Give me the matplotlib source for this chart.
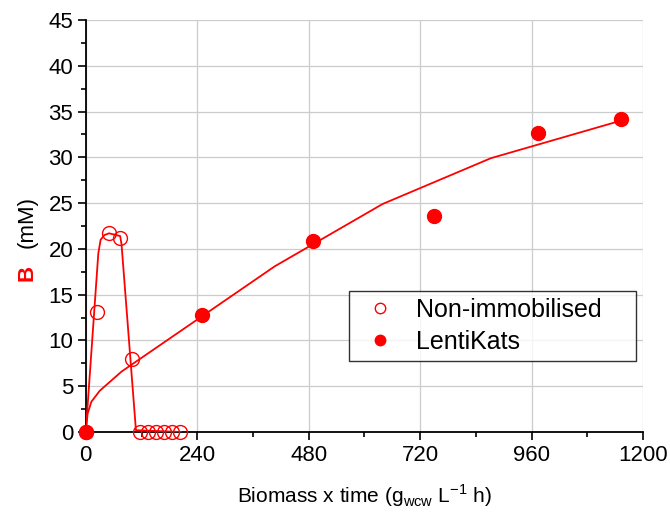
import matplotlib
matplotlib.use('Agg')
import matplotlib.pyplot as plt
from matplotlib.ticker import MultipleLocator

plt.rcParams['font.family'] = ['Liberation Sans', 'DejaVu Sans']

# Non-immobilised (open circles)
x_free = [0, 24, 49, 74, 100, 117, 134, 151, 168, 185, 202]
y_free = [0, 13.1, 21.7, 21.2, 8.0, 0, 0, 0, 0, 0, 0]
x_free_fit = [0, 27, 32, 40, 50, 74, 77, 108, 205]
y_free_fit = [0, 19.5, 21.0, 21.5, 21.7, 21.4, 20.5, 0.2, 0]

# LentiKats (filled circles)
x_lk = [0, 250, 489, 749, 973, 1152]
y_lk = [0, 12.8, 20.9, 23.6, 32.7, 34.2]
x_lk_fit = [0, 4, 12, 30, 77, 407, 639, 872, 1152]
y_lk_fit = [0, 2.0, 3.3, 4.5, 6.6, 18.1, 24.9, 29.9, 34.0]

fig = plt.figure(figsize=(6.7, 5.19), dpi=100)
ax = fig.add_axes([0.128, 0.1676, 0.832, 0.794])

red = '#ff0000'
ax.plot(x_free_fit, y_free_fit, color=red, lw=1.3, zorder=3)
ax.plot(x_lk_fit, y_lk_fit, color=red, lw=1.3, zorder=3)
ax.plot(x_free, y_free, 'o', mfc='none', mec=red, ms=10, mew=1.0,
        label='Non-immobilised', zorder=4, clip_on=False)
ax.plot(x_lk, y_lk, 'o', color=red, ms=10, label='LentiKats', zorder=4,
        clip_on=False)

ax.set_xlim(0, 1200)
ax.set_ylim(0, 45)
ax.xaxis.set_major_locator(MultipleLocator(240))
ax.xaxis.set_minor_locator(MultipleLocator(120))
ax.yaxis.set_major_locator(MultipleLocator(5))
ax.yaxis.set_minor_locator(MultipleLocator(2.5))
ax.grid(True, which='major', color='#cccccc', lw=0.9)
ax.set_axisbelow(True)

for s in ['top', 'right']:
    ax.spines[s].set_visible(False)
for s in ['left', 'bottom']:
    ax.spines[s].set_linewidth(1.3)

ax.tick_params(which='major', direction='out', length=6, width=1.2,
               labelsize=16, pad=3)
ax.tick_params(which='minor', direction='out', length=3.5, width=1.2)

ax.set_xlabel('Biomass x time (g$_{\\mathregular{wcw}}$ L$^{\\mathregular{-1}}$ h)',
              fontsize=15, labelpad=12)

ax.text(-0.105, 0.447, '(mM)', transform=ax.transAxes, rotation=90,
        fontsize=16, ha='center', va='bottom')
ax.text(-0.105, 0.405, 'B', transform=ax.transAxes, rotation=90,
        fontsize=16, fontweight='bold', color=red, ha='center', va='top')

leg = ax.legend(loc='lower left', bbox_to_anchor=(0.472, 0.172, 0.515, 0.1),
                mode='expand', borderaxespad=0, fontsize=18, frameon=True,
                fancybox=False, edgecolor='black', handletextpad=0.5,
                borderpad=0.3, labelspacing=0.3, handlelength=1.9,
                markerscale=0.75)
leg.get_frame().set_linewidth(1.0)

fig.savefig('out.png', dpi=100)
